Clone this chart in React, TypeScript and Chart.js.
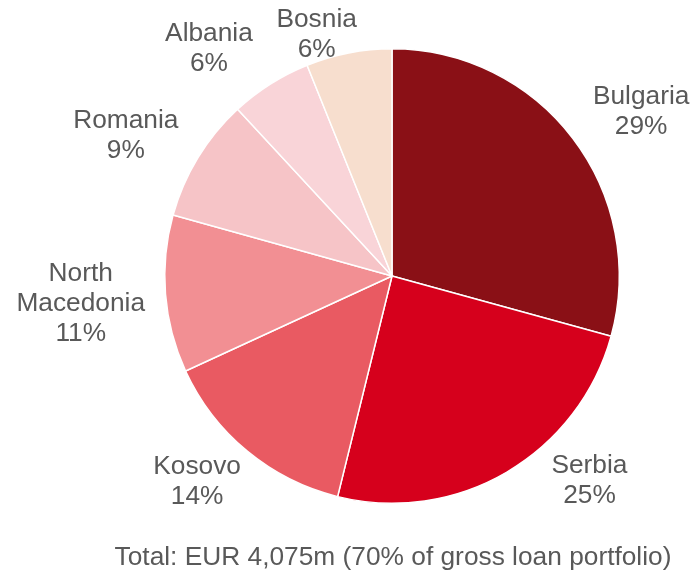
import React, { useEffect, useRef } from "react";
import { Chart, registerables } from "chart.js";

Chart.register(...registerables);

const countries = ["Bulgaria", "Serbia", "Kosovo", "North\nMacedonia", "Romania", "Albania", "Bosnia"];
const shares = [29.3, 24.6, 14.3, 11.2, 8.8, 5.8, 6.1];
const sliceColors = ["#8A1016", "#D6001C", "#E95A62", "#F28F93", "#F6C4C7", "#F9D4D8", "#F7DECE"];
const totalNote = "Total: EUR 4,075m (70% of gross loan portfolio)";

// label placement relative to each arc: angle nudge (deg) and distance beyond the rim (px)
const labelAngleNudge = [3.4, -14, 4.3, 0, -3.1, -6.1, -6.2];
const labelRimGap = [73, 55, 54, 85, 75, 67, 28];

const FONT = "26.3px 'Liberation Sans', Arial, sans-serif";
const TEXT_COLOR = "#595959";

const labelPlugin = {
  id: "outerLabels",
  afterDatasetsDraw(chart: any) {
    const ctx = chart.ctx;
    const meta = chart.getDatasetMeta(0);
    ctx.save();
    ctx.font = FONT;
    ctx.fillStyle = TEXT_COLOR;
    ctx.textAlign = "center";
    ctx.textBaseline = "middle";
    meta.data.forEach((arc: any, i: number) => {
      const p = arc.getProps(["x", "y", "startAngle", "endAngle", "outerRadius"], true);
      const mid = (p.startAngle + p.endAngle) / 2 + (labelAngleNudge[i] * Math.PI) / 180;
      const d = p.outerRadius + labelRimGap[i];
      const cx = p.x + Math.cos(mid) * d;
      const cy = p.y + Math.sin(mid) * d + 3;
      const lines = [...countries[i].split("\n"), Math.round(shares[i]) + "%"];
      const lh = 30;
      const top = cy - ((lines.length - 1) * lh) / 2;
      lines.forEach((ln, k) => ctx.fillText(ln, cx, top + k * lh));
    });
    ctx.textAlign = "center";
    ctx.fillText(totalNote, 393, 558);
    ctx.restore();
  },
};

export default function App() {
  const ref = useRef<HTMLCanvasElement>(null);
  useEffect(() => {
    if (!ref.current) return;
    const chart = new Chart(ref.current, {
      type: "pie",
      data: {
        labels: countries.map((c) => c.replace("\n", " ")),
        datasets: [
          {
            data: shares,
            backgroundColor: sliceColors,
            borderColor: "#FFFFFF",
            borderWidth: 1.5,
            hoverOffset: 0,
          },
        ],
      },
      options: {
        responsive: false,
        animation: false,
        rotation: 0,
        layout: { padding: { left: 163, right: 73, top: 48, bottom: 70 } },
        plugins: {
          legend: { display: false },
          tooltip: { enabled: false },
          title: { display: false },
        },
        events: [],
      },
      plugins: [labelPlugin],
    });
    return () => chart.destroy();
  }, []);
  return (
    <div style={{ position: "fixed", left: 0, top: 0, width: 694, height: 574, background: "#fff" }}>
      <canvas ref={ref} width={694} height={574} style={{ width: 694, height: 574, display: "block" }} />
    </div>
  );
}
